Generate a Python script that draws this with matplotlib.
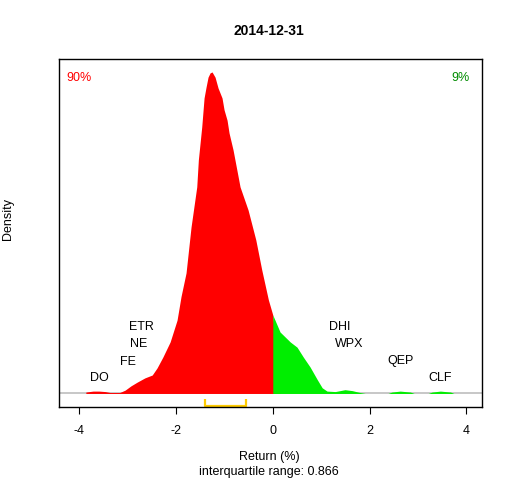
import matplotlib
matplotlib.use('Agg')
import matplotlib.pyplot as plt
import numpy as np

plt.rcParams['font.family'] = ['Liberation Sans', 'DejaVu Sans']

title = '2014-12-31'

# density curve (return %, density)
ret = [-3.86, -3.71, -3.59, -3.46, -3.36, -3.16, -3.05, -2.93, -2.80, -2.64,
       -2.49, -2.39, -2.27, -2.12, -1.977, -1.895, -1.791, -1.688, -1.570, -1.537,
       -1.467, -1.419, -1.378, -1.337, -1.295, -1.254, -1.192, -1.130, -1.048, -1.006,
       -0.944, -0.903, -0.820, -0.676, -0.510, -0.351, -0.227, -0.091, 0.00, 0.15,
       0.36, 0.50, 0.63, 0.77, 0.92, 1.02, 1.12, 1.29, 1.49, 1.64,
       1.80, 1.91, 2.38, 2.46, 2.63, 2.84, 2.92, 3.21, 3.29, 3.46,
       3.67, 3.74]
dens = [0.003, 0.005, 0.005, 0.004, 0.002, 0.002, 0.007, 0.016, 0.024, 0.033,
        0.039, 0.054, 0.077, 0.109, 0.155, 0.205, 0.255, 0.352, 0.437, 0.494,
        0.564, 0.625, 0.648, 0.669, 0.678, 0.680, 0.669, 0.646, 0.625, 0.600,
        0.578, 0.551, 0.515, 0.437, 0.388, 0.325, 0.261, 0.198, 0.166, 0.130,
        0.109, 0.098, 0.077, 0.056, 0.029, 0.012, 0.005, 0.004, 0.008, 0.006,
        0.002, 0.0, 0.0, 0.003, 0.005, 0.003, 0.0, 0.0, 0.003, 0.005,
        0.003, 0.0]

# tail tickers and label positions
tickers = ['DO', 'FE', 'NE', 'ETR', 'DHI', 'WPX', 'QEP', 'CLF']
tick_ret = [-3.59, -2.99, -2.78, -2.72, 1.39, 1.58, 2.63, 3.46]
tick_y = [0.033, 0.067, 0.105, 0.141, 0.141, 0.105, 0.069, 0.033]

q1, q3 = -1.41, -0.544
pct_neg, pct_pos = '90%', '9%'
xticks = [-4, -2, 0, 2, 4]

x = np.array(ret)
y = np.array(dens)

fig = plt.figure(figsize=(5.12, 4.8), dpi=100)
ax = fig.add_axes([0.1152, 0.1521, 0.8262, 0.7244])

ax.fill_between(x, 0, y, where=x <= 0, color='#FF0000', linewidth=0, interpolate=True)
ax.fill_between(x, 0, y, where=x >= 0, color='#00EE00', linewidth=0, interpolate=True)
ax.axhline(0, color='#BEBEBE', linewidth=1.2, zorder=0)

for t, tx, ty in zip(tickers, tick_ret, tick_y):
    ax.text(tx, ty, t, ha='center', va='center', fontsize=9)

# interquartile bracket
ax.plot([q1, q1, q3, q3], [-0.011, -0.0265, -0.0265, -0.011], color='#FFCC00',
        linewidth=1.6, solid_capstyle='butt', clip_on=False)

ax.text(0.047, 0.946, pct_neg, transform=ax.transAxes, color='#FF0000',
        ha='center', va='center', fontsize=9)
ax.text(0.948, 0.946, pct_pos, transform=ax.transAxes, color='#008B00',
        ha='center', va='center', fontsize=9)

ax.set_xlim(-4.415, 4.32)
ax.set_ylim(-0.0286, 0.7068)
ax.set_xticks(xticks)
ax.set_xticklabels([str(v) for v in xticks], fontsize=9)
ax.set_yticks([])
ax.tick_params(axis='x', direction='out', length=5, width=0.8, pad=8)
for s in ax.spines.values():
    s.set_linewidth(1.0)
    s.set_color('black')

fig.text(0.5254, 0.935, title, ha='center', va='center', fontsize=10, fontweight='bold')
fig.text(0.5254, 0.048, 'Return (%)', ha='center', va='center', fontsize=9)
fig.text(0.5254, 0.017, 'interquartile range: 0.866', ha='center', va='center', fontsize=9)
fig.text(0.016, 0.544, 'Density', ha='center', va='center', rotation=90, fontsize=9)

fig.savefig('out.png', dpi=100)
